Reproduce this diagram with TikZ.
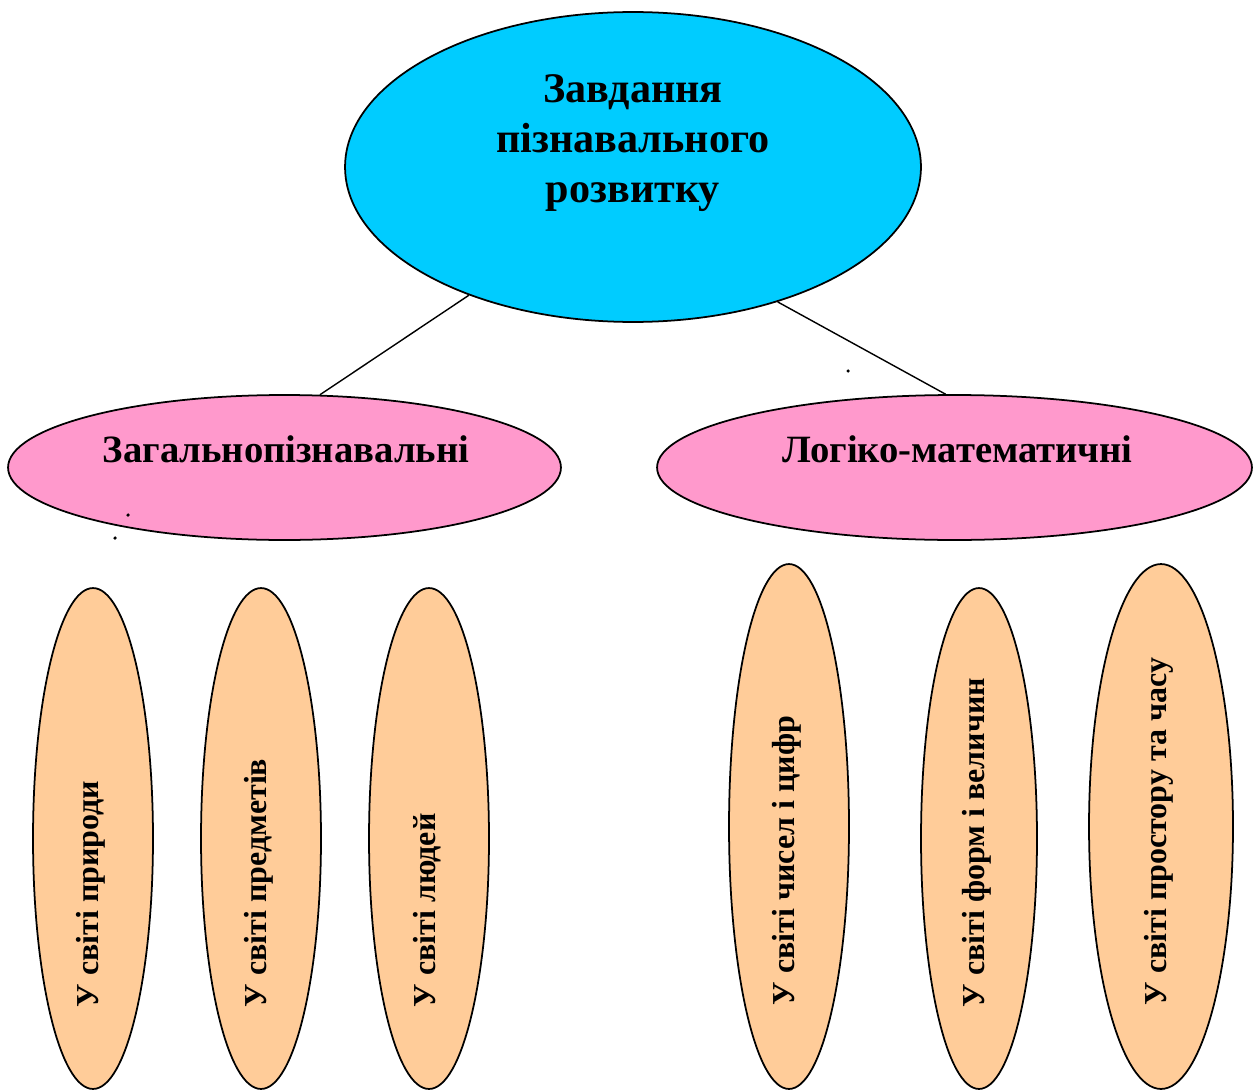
\documentclass[tikz,border=0pt]{standalone}
\usepackage{fontspec}
\setmainfont{Liberation Serif}
\usepackage{tikz}
\usetikzlibrary{shapes.geometric, positioning}
\definecolor{skyfill}{HTML}{00CCFF}
\definecolor{pinkfill}{HTML}{FF99CC}
\definecolor{peachfill}{HTML}{FFCC99}
\begin{document}
\begin{tikzpicture}[x=0.02cm, y=-0.02cm, line width=1pt,
  task/.style={ellipse, draw, inner sep=0pt},
  topic/.style={font=\bfseries\fontsize{22}{26}\selectfont, anchor=base},
  area/.style={font=\bfseries\fontsize{18.2}{22}\selectfont, rotate=90, anchor=west, inner sep=0pt}]
\tikzset{every edge/.append style={line width=0.8pt}}
\useasboundingbox (0,0) rectangle (1253,1091);
\node[task, fill=skyfill, minimum width=11.52cm, minimum height=6.2cm] (0) at (633,167) {};
\node[task, fill=pinkfill, minimum width=11.06cm, minimum height=2.9cm] (1) at (284.5,467.5) {};
\node[task, fill=pinkfill, minimum width=11.9cm, minimum height=2.9cm] (2) at (954.5,467.5) {};
\node[task, fill=peachfill, minimum width=2.4cm, minimum height=10.02cm] (3) at (93,838.5) {};
\node[task, fill=peachfill, minimum width=2.4cm, minimum height=10.02cm] (4) at (261,838.5) {};
\node[task, fill=peachfill, minimum width=2.4cm, minimum height=10.02cm] (5) at (429,838.5) {};
\node[task, fill=peachfill, minimum width=2.4cm, minimum height=10.5cm] (6) at (789,826.5) {};
\node[task, fill=peachfill, minimum width=2.32cm, minimum height=10.02cm] (7) at (979,838.5) {};
\node[task, fill=peachfill, minimum width=2.88cm, minimum height=10.5cm] (8) at (1161,826.5) {};

\node[align=center, font=\bfseries\fontsize{24}{28.3}\selectfont] (t0) at (633,143) {Завдання\\пізнавального\\розвитку};
\node[topic] (t1) at (286,462) {Загальнопізнавальні};
\node[topic] (t2) at (957.5,462) {Логіко-математичні};
\node[area] (t3) at (91,1008) {У світі природи};
\node[area] (t4) at (259,1008) {У світі предметів};
\node[area] (t5) at (427,1008) {У світі людей};
\node[area] (t6) at (787,1006) {У світі чисел і цифр};
\node[area] (t7) at (977,1008) {У світі форм і величин};
\node[area] (t8) at (1159,1006) {У світі простору та часу};

% stray dots
\foreach \name/\pos in {d1/{(848,371)}, d2/{(128,515)}, d3/{(115,538)}}
  \node[circle, fill, inner sep=0pt, minimum size=2pt] (\name) at \pos {};

\path
(0.218) edge (1.64)
(0.317.5) edge (2.97.5);
\end{tikzpicture}
\end{document}
